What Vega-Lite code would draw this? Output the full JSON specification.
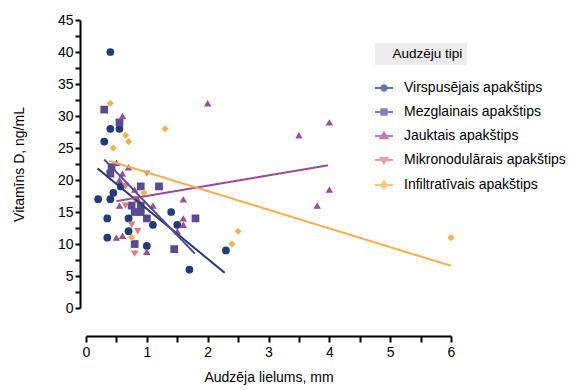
{
  "$schema": "https://vega.github.io/schema/vega-lite/v6.json",
  "width": 365,
  "height": 288,
  "autosize": {"type": "none"},
  "padding": {"left": 86, "top": 20, "right": 128, "bottom": 82},
  "background": "white",
  "config": {
    "view": {"stroke": null},
    "font": "Liberation Sans",
    "axis": {
      "grid": false,
      "domainColor": "black",
      "domainWidth": 2,
      "tickColor": "black",
      "tickWidth": 2,
      "labelFont": "Liberation Sans",
      "labelFontSize": 14,
      "labelColor": "black",
      "titleFont": "Liberation Sans",
      "titleFontSize": 14,
      "titleFontWeight": "normal",
      "titleColor": "black",
      "labelFlush": false,
      "labelOverlap": false
    },
    "legend": {"labelFont": "Liberation Sans", "labelColor": "black", "labelLimit": 300}
  },
  "datasets": {
    "points": [
      {"group": "Virspusējais apakštips", "size": 0.4, "vitd": 40},
      {"group": "Virspusējais apakštips", "size": 0.4, "vitd": 28},
      {"group": "Virspusējais apakštips", "size": 0.55, "vitd": 28},
      {"group": "Virspusējais apakštips", "size": 0.3, "vitd": 26},
      {"group": "Virspusējais apakštips", "size": 0.57, "vitd": 19},
      {"group": "Virspusējais apakštips", "size": 0.45, "vitd": 18},
      {"group": "Virspusējais apakštips", "size": 0.2, "vitd": 17},
      {"group": "Virspusējais apakštips", "size": 0.4, "vitd": 17},
      {"group": "Virspusējais apakštips", "size": 1.4, "vitd": 15},
      {"group": "Virspusējais apakštips", "size": 0.35, "vitd": 14},
      {"group": "Virspusējais apakštips", "size": 0.7, "vitd": 14},
      {"group": "Virspusējais apakštips", "size": 1.1, "vitd": 13},
      {"group": "Virspusējais apakštips", "size": 1.5, "vitd": 13},
      {"group": "Virspusējais apakštips", "size": 0.7, "vitd": 12},
      {"group": "Virspusējais apakštips", "size": 0.35, "vitd": 11},
      {"group": "Virspusējais apakštips", "size": 1.0, "vitd": 9.7},
      {"group": "Virspusējais apakštips", "size": 2.3, "vitd": 9},
      {"group": "Virspusējais apakštips", "size": 1.7, "vitd": 6},
      {"group": "Mezglainais apakštips", "size": 0.3, "vitd": 31},
      {"group": "Mezglainais apakštips", "size": 0.55, "vitd": 29},
      {"group": "Mezglainais apakštips", "size": 0.42, "vitd": 22},
      {"group": "Mezglainais apakštips", "size": 0.4, "vitd": 21},
      {"group": "Mezglainais apakštips", "size": 0.9, "vitd": 19},
      {"group": "Mezglainais apakštips", "size": 1.2, "vitd": 19},
      {"group": "Mezglainais apakštips", "size": 0.75, "vitd": 16},
      {"group": "Mezglainais apakštips", "size": 0.9, "vitd": 16},
      {"group": "Mezglainais apakštips", "size": 0.8, "vitd": 15},
      {"group": "Mezglainais apakštips", "size": 0.9, "vitd": 15},
      {"group": "Mezglainais apakštips", "size": 1.0, "vitd": 14},
      {"group": "Mezglainais apakštips", "size": 1.8, "vitd": 14},
      {"group": "Mezglainais apakštips", "size": 0.8, "vitd": 10},
      {"group": "Mezglainais apakštips", "size": 1.45, "vitd": 9.2},
      {"group": "Jauktais apakštips", "size": 0.6, "vitd": 30},
      {"group": "Jauktais apakštips", "size": 2.0, "vitd": 32},
      {"group": "Jauktais apakštips", "size": 4.0, "vitd": 29},
      {"group": "Jauktais apakštips", "size": 3.5, "vitd": 27},
      {"group": "Jauktais apakštips", "size": 4.0, "vitd": 18.5},
      {"group": "Jauktais apakštips", "size": 3.8, "vitd": 16},
      {"group": "Jauktais apakštips", "size": 1.6, "vitd": 17},
      {"group": "Jauktais apakštips", "size": 1.6, "vitd": 14},
      {"group": "Jauktais apakštips", "size": 1.6, "vitd": 13},
      {"group": "Jauktais apakštips", "size": 0.5, "vitd": 22.7},
      {"group": "Jauktais apakštips", "size": 0.7, "vitd": 22},
      {"group": "Jauktais apakštips", "size": 0.6, "vitd": 21},
      {"group": "Jauktais apakštips", "size": 0.55, "vitd": 20},
      {"group": "Jauktais apakštips", "size": 0.8, "vitd": 18.5},
      {"group": "Jauktais apakštips", "size": 0.85, "vitd": 17},
      {"group": "Jauktais apakštips", "size": 0.55, "vitd": 16},
      {"group": "Jauktais apakštips", "size": 1.1, "vitd": 16},
      {"group": "Jauktais apakštips", "size": 1.5, "vitd": 12},
      {"group": "Jauktais apakštips", "size": 0.5, "vitd": 11},
      {"group": "Jauktais apakštips", "size": 0.6, "vitd": 11.3},
      {"group": "Jauktais apakštips", "size": 1.0, "vitd": 8.8},
      {"group": "Mikronodulārais apakštips", "size": 1.0, "vitd": 21},
      {"group": "Mikronodulārais apakštips", "size": 0.65, "vitd": 19},
      {"group": "Mikronodulārais apakštips", "size": 0.8, "vitd": 17},
      {"group": "Mikronodulārais apakštips", "size": 0.65, "vitd": 16},
      {"group": "Mikronodulārais apakštips", "size": 0.75, "vitd": 13},
      {"group": "Mikronodulārais apakštips", "size": 0.85, "vitd": 12},
      {"group": "Mikronodulārais apakštips", "size": 0.8, "vitd": 8.5},
      {"group": "Infiltratīvais apakštips", "size": 0.4, "vitd": 32},
      {"group": "Infiltratīvais apakštips", "size": 0.65, "vitd": 27},
      {"group": "Infiltratīvais apakštips", "size": 0.7, "vitd": 26},
      {"group": "Infiltratīvais apakštips", "size": 0.45, "vitd": 25},
      {"group": "Infiltratīvais apakštips", "size": 1.3, "vitd": 28},
      {"group": "Infiltratīvais apakštips", "size": 0.95, "vitd": 18},
      {"group": "Infiltratīvais apakštips", "size": 0.75, "vitd": 11},
      {"group": "Infiltratīvais apakštips", "size": 2.5, "vitd": 12},
      {"group": "Infiltratīvais apakštips", "size": 2.4, "vitd": 10},
      {"group": "Infiltratīvais apakštips", "size": 6.0, "vitd": 11}
    ],
    "lines": [
      {"group": "Virspusējais apakštips", "size": 0.19, "vitd": 21.8},
      {"group": "Virspusējais apakštips", "size": 2.28, "vitd": 5.5},
      {"group": "Mezglainais apakštips", "size": 0.3, "vitd": 23.2},
      {"group": "Mezglainais apakštips", "size": 1.79, "vitd": 8.5},
      {"group": "Jauktais apakštips", "size": 0.5, "vitd": 16.7},
      {"group": "Jauktais apakštips", "size": 3.98, "vitd": 22.3},
      {"group": "Infiltratīvais apakštips", "size": 0.38, "vitd": 23.0},
      {"group": "Infiltratīvais apakštips", "size": 6.0, "vitd": 6.6}
    ]
  },
  "encoding": {
    "x": {
      "field": "size", "type": "quantitative",
      "scale": {"domain": [0, 6], "nice": false, "zero": false},
      "axis": {
        "title": "Audzēja lielums, mm",
        "values": [0, 0.5, 1, 1.5, 2, 2.5, 3, 3.5, 4, 4.5, 5, 5.5, 6],
        "labelExpr": "datum.value % 1 === 0 ? format(datum.value, 'd') : ''",
        "labelOverlap": false,
        "labelFlush": false,
        "offset": 28,
        "tickSize": 6,
        "labelPadding": 3,
        "titlePadding": 11
      }
    },
    "y": {
      "field": "vitd", "type": "quantitative",
      "scale": {"domain": [0, 45], "nice": false},
      "axis": {
        "title": "Vitamīns D, ng/mL",
        "values": [0, 2.5, 5, 7.5, 10, 12.5, 15, 17.5, 20, 22.5, 25, 27.5, 30, 32.5, 35, 37.5, 40, 42.5, 45],
        "labelExpr": "datum.value % 5 === 0 ? format(datum.value, 'd') : ''",
        "labelOverlap": false,
        "labelFlush": false,
        "offset": 6,
        "tickSize": 5,
        "labelPadding": 2,
        "titlePadding": 31
      }
    }
  },
  "layer": [
    {
      "data": {"name": "points"},
      "transform": [{"filter": "false"}],
      "mark": {"type": "point", "filled": false},
      "encoding": {
        "color": {
          "field": "group", "type": "nominal",
          "scale": {
            "domain": ["Virspusējais apakštips", "Mezglainais apakštips", "Jauktais apakštips", "Mikronodulārais apakštips", "Infiltratīvais apakštips"],
            "range": ["#1f3b78", "#5a4a94", "#9c4b97", "#e8787a", "#f4b04b"]
          },
          "legend": {
            "title": null, "orient": "none", "legendX": 288, "legendY": 58, "padding": 0,
            "symbolSize": 324, "symbolStrokeWidth": 2,
            "labelOffset": 10, "labelFontSize": 14, "rowPadding": 7, "labelLimit": 300
          }
        },
        "shape": {
          "field": "group", "type": "nominal",
          "scale": {
            "domain": ["Virspusējais apakštips", "Mezglainais apakštips", "Jauktais apakštips", "Mikronodulārais apakštips", "Infiltratīvais apakštips"],
            "range": [
              "M-1,0L1,0M0.3,0L0.26,0.15L0.15,0.26L0,0.3L-0.15,0.26L-0.26,0.15L-0.3,0L-0.26,-0.15L-0.15,-0.26L0,-0.3L0.15,-0.26L0.26,-0.15ZM0.1,0L0,0.1L-0.1,0L0,-0.1Z",
              "M-1,0L1,0M-0.3,-0.3L0.3,-0.3L0.3,0.3L-0.3,0.3ZM-0.1,-0.1L0.1,-0.1L0.1,0.1L-0.1,0.1Z",
              "M-1,0L1,0M0,-0.38L0.38,0.26L-0.38,0.26ZM0,-0.13L0.13,0.09L-0.13,0.09Z",
              "M-1,0L1,0M0,0.38L0.38,-0.26L-0.38,-0.26ZM0,0.13L0.13,-0.09L-0.13,-0.09Z",
              "M-1,0L1,0M0,-0.4L0.3,0L0,0.4L-0.3,0ZM0,-0.13L0.1,0L0,0.13L-0.1,0Z"
            ]
          },
          "legend": {
            "title": null, "orient": "none", "legendX": 288, "legendY": 58, "padding": 0,
            "symbolSize": 324, "symbolStrokeWidth": 2,
            "labelOffset": 10, "labelFontSize": 14, "rowPadding": 7, "labelLimit": 300
          }
        }
      }
    },
    {
      "data": {"name": "points"},
      "transform": [{"filter": "datum.group === 'Virspusējais apakštips'"}],
      "mark": {"type": "point", "filled": true, "opacity": 1, "size": 60, "shape": "circle", "color": "#1f3b78"}
    },
    {
      "data": {"name": "points"},
      "transform": [{"filter": "datum.group === 'Mezglainais apakštips'"}],
      "mark": {"type": "point", "filled": true, "opacity": 1, "size": 60, "shape": "square", "color": "#5a4a94"}
    },
    {
      "data": {"name": "points"},
      "transform": [{"filter": "datum.group === 'Jauktais apakštips'"}],
      "mark": {"type": "point", "filled": true, "opacity": 1, "size": 55, "shape": "triangle-up", "color": "#9c4b97"}
    },
    {
      "data": {"name": "points"},
      "transform": [{"filter": "datum.group === 'Mikronodulārais apakštips'"}],
      "mark": {"type": "point", "filled": true, "opacity": 1, "size": 55, "shape": "triangle-down", "color": "#e8787a"}
    },
    {
      "data": {"name": "points"},
      "transform": [{"filter": "datum.group === 'Infiltratīvais apakštips'"}],
      "mark": {"type": "point", "filled": true, "opacity": 1, "size": 50, "shape": "diamond", "color": "#f4b04b"}
    },
    {
      "data": {"name": "lines"},
      "mark": {"type": "line", "strokeWidth": 2},
      "encoding": {
        "color": {
          "field": "group", "type": "nominal",
          "scale": {
            "domain": ["Virspusējais apakštips", "Mezglainais apakštips", "Jauktais apakštips", "Mikronodulārais apakštips", "Infiltratīvais apakštips"],
            "range": ["#1f3b78", "#5a4a94", "#9c4b97", "#e8787a", "#f4b04b"]
          },
          "legend": null
        },
        "strokeDash": {
          "datum": "Audzēju tipi", "type": "nominal",
          "scale": {"range": [[1, 0]]},
          "legend": {
            "title": null,
            "orient": "none",
            "legendX": 289,
            "legendY": 23,
            "padding": 4,
            "fillColor": "#ebebeb",
            "symbolSize": 0.0001,
            "symbolStrokeWidth": 0,
            "symbolOpacity": 0,
            "labelOffset": 0,
            "labelFontSize": 13.5
          }
        }
      }
    }
  ]
}
